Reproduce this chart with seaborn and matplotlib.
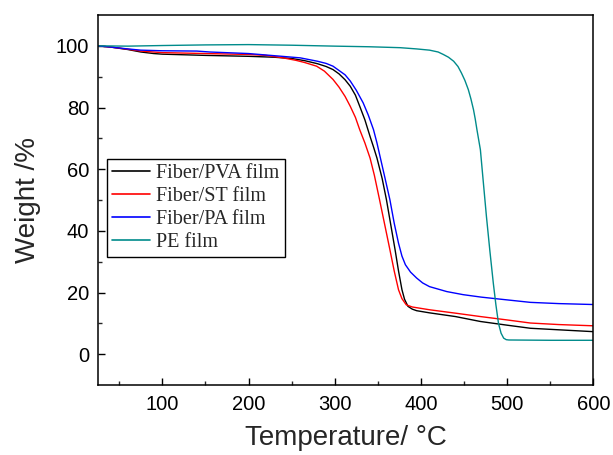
import numpy as np
import pandas as pd
import seaborn as sns
import matplotlib
matplotlib.use("Agg")
import matplotlib.pyplot as plt

# ---- data ----
pva_t = [25, 40, 60, 75, 90, 100, 150, 200, 230, 250, 265, 280, 290, 298, 305, 312, 318, 324, 329, 335,
         341, 345, 349, 355, 360, 365, 370, 374, 378, 381, 385, 390, 395, 410, 440, 469, 500, 527, 560, 600]
pva_w = [100, 99.6, 98.8, 98.0, 97.5, 97.3, 96.9, 96.6, 96.3, 95.9, 95.2, 94.2, 93.3, 92.3, 90.9, 89.0, 86.9, 84.0, 80.4, 76.0,
         70.6, 67.2, 63.6, 57.0, 50.1, 42.0, 33.9, 27.0, 20.9, 17.8, 15.5, 14.6, 14.1, 13.4, 12.2, 10.6, 9.4, 8.4, 7.9, 7.3]

st_t = [25, 40, 60, 75, 100, 150, 200, 220, 240, 255, 265, 279, 288, 298, 305, 312, 318, 324, 329, 335,
        341, 346, 352, 358, 364, 369, 374, 378, 383, 390, 410, 440, 469, 500, 527, 560, 600]
st_w = [100, 99.6, 98.9, 98.3, 97.8, 97.5, 97.2, 96.9, 96.1, 95.3, 94.6, 93.4, 91.8, 89.1, 86.6, 83.6, 80.4, 76.8, 72.8, 68.5,
        63.6, 58.0, 50.1, 42.0, 33.9, 27.0, 20.9, 18.0, 16.0, 15.3, 14.4, 13.3, 12.2, 11.1, 10.1, 9.6, 9.2]

pa_t = [25, 40, 60, 75, 100, 140, 155, 200, 230, 260, 280, 290, 298, 305, 312, 318, 325, 333, 339, 345,
        349, 353, 358, 364, 369, 374, 378, 382, 388, 395, 402, 410, 430, 449, 470, 490, 527, 560, 600]
pa_w = [100, 99.6, 99.0, 98.6, 98.4, 98.3, 98.0, 97.5, 96.8, 96.1, 95.0, 94.3, 93.4, 92.0, 90.6, 88.6, 85.6, 81.5, 77.5, 72.8,
        68.5, 63.6, 57.5, 50.1, 42.5, 36.0, 31.8, 29.0, 26.6, 24.7, 23.1, 21.9, 20.3, 19.3, 18.5, 17.9, 16.8, 16.4, 16.1]

pe_t = [25, 60, 100, 150, 200, 250, 300, 340, 376, 395, 410, 420, 426, 432, 438, 443, 447, 451, 455, 458,
        461, 463, 465, 469, 472, 476, 480, 484, 487, 490, 493, 496, 499, 502, 550, 600]
pe_w = [100, 99.9, 100.1, 100.3, 100.4, 100.2, 99.9, 99.7, 99.4, 99.0, 98.6, 98.0, 97.2, 96.3, 95.0, 93.3, 91.2, 88.8, 85.8, 82.8,
        79.3, 76.3, 72.8, 66.3, 57.0, 44.7, 33.5, 23.0, 16.0, 10.0, 6.8, 5.2, 4.7, 4.6, 4.5, 4.5]

labels = ["Fiber/PVA film", "Fiber/ST film", "Fiber/PA film", "PE film"]
colors = ["#000000", "#ff0000", "#0000ff", "#008b8b"]
x_ticks = [100, 200, 300, 400, 500, 600]
x_minor = [50, 150, 250, 350, 450, 550]
y_ticks = [0, 20, 40, 60, 80, 100]
y_minor = [10, 30, 50, 70, 90]

frames = []
for lab, t, w in zip(labels, [pva_t, st_t, pa_t, pe_t], [pva_w, st_w, pa_w, pe_w]):
    frames.append(pd.DataFrame({"Temperature": t, "Weight": w, "Sample": lab}))
df = pd.concat(frames, ignore_index=True)

sns.set_theme(style="white")
plt.rcParams["font.family"] = ["Liberation Sans", "DejaVu Sans"]

fig = plt.figure(figsize=(6.13, 4.55), dpi=100)
ax = fig.add_axes([97.7 / 613, 1 - 385 / 455, (593.3 - 97.7) / 613, (385 - 15) / 455])

sns.lineplot(data=df, x="Temperature", y="Weight", hue="Sample", hue_order=labels,
             palette=colors, estimator=None, sort=False, linewidth=1.0, ax=ax)

ax.set_xlim(25, 600)
ax.set_ylim(-10, 110)
ax.set_xticks(x_ticks)
ax.set_yticks(y_ticks)
ax.set_xticks(x_minor, minor=True)
ax.set_yticks(y_minor, minor=True)
ax.tick_params(axis="both", which="major", direction="in", length=5, width=1,
               labelsize=14.5, colors="black")
ax.tick_params(axis="x", which="major", pad=7)
ax.tick_params(axis="y", which="major", pad=6)
ax.tick_params(axis="both", which="minor", direction="in", length=3, width=1)
ax.tick_params(top=False, right=False, which="both")
ax.tick_params(axis="x", which="both", bottom=True)
ax.tick_params(axis="y", which="both", left=True)

for sp in ax.spines.values():
    sp.set_color("black")
    sp.set_linewidth(1.1)

ax.set_xlabel("Temperature/ °C", fontsize=20, labelpad=8)
ax.set_ylabel("Weight /%", fontsize=20, labelpad=11)

leg = ax.legend(loc="upper left", bbox_to_anchor=(0.019, 0.611), borderaxespad=0,
                frameon=True, fancybox=False, edgecolor="black", framealpha=1,
                prop={"family": "Liberation Serif", "size": 14.5},
                handlelength=1.9, handletextpad=0.3, labelspacing=0.2, borderpad=0.25)
leg.get_frame().set_linewidth(1.0)
for h in leg.get_lines():
    h.set_linewidth(1.2)

fig.savefig("out.png", dpi=100)
